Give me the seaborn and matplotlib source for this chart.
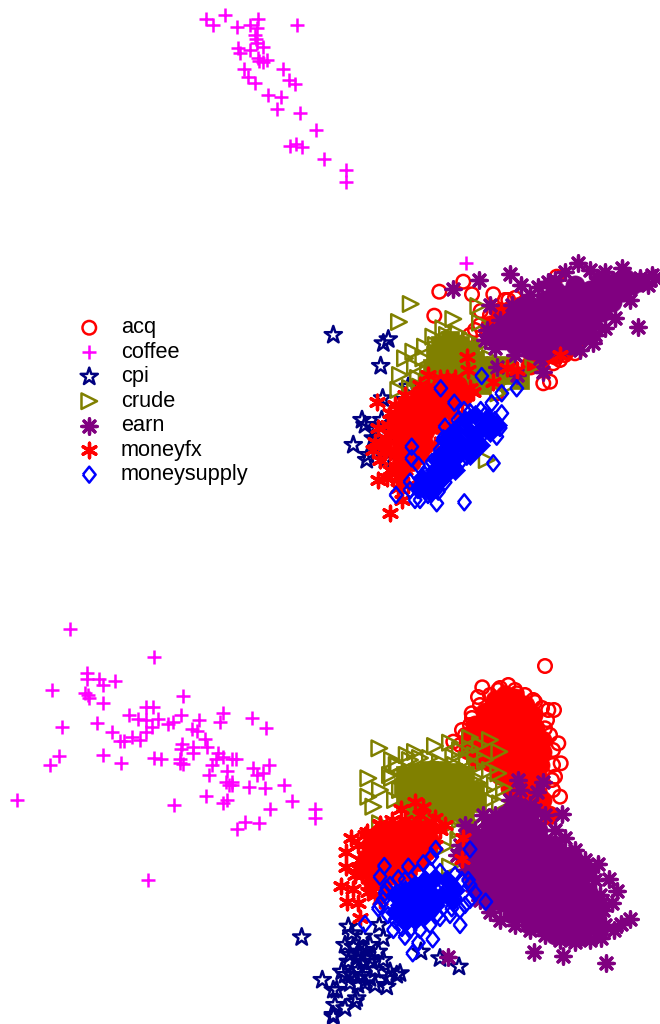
import matplotlib
matplotlib.use('Agg')
import matplotlib.pyplot as plt
import seaborn as sns

sns.set_theme(style='white')
plt.rcParams['font.family'] = ['Liberation Sans', 'DejaVu Sans']

names = ['acq', 'coffee', 'cpi', 'crude', 'earn', 'moneyfx', 'moneysupply']
colors = ['#ff0000', '#ff00ff', '#000080', '#808000', '#800080', '#ff0000', '#0000ff']
diamond = [(-0.8, 0), (0, 1), (0.8, 0), (0, -1), (-0.8, 0)]
markers = ['o', '+', '*', '>', (8, 2, 0), (6, 2, 0), diamond]
sizes = [95, 100, 170, 125, 120, 110, 132]

# scores, top panel
top = {}
top_core = {}
top['acq'] = [(439.3,291.7),(463.3,281.7),(472,294.3),(493.3,294.3),(434.3,315.7),(556.7,276.7),(508.3,300),(526.7,301.7),(480.7,311),(475,330),(543.3,383.3),(550,381.7),(575,353.3),(553.3,363.3),(496.7,393.3),(505,300),(515,298),(525,302),(480,325),(470,335),(500,310),(490,315),(565,355),(545,358),(560,360),(520,362),(510,365),(535,362),(575,345)]
top_core['acq'] = [(500,315),(510,310),(520,306),(490,325),(555,355),(565,350),(540,360),(530,365)]
top['coffee'] = [(205.7,19),(213.3,25.3),(224.7,14.7),(237,26.7),(250.3,24.7),(258,19),(257,28),(255,35),(255.7,39.3),(262.7,46.7),(257,42.7),(249.7,50),(238.3,47.7),(240.3,52.7),(257.7,58.3),(267.3,59.7),(259.3,61),(263.3,61.7),(243.7,68.7),(283.3,69),(247.7,77.3),(255,83.3),(288.7,80.3),(295.3,83.7),(297,25),(268.3,95.3),(281,96.7),(276.7,109.3),(300.3,113.3),(316,130.3),(290.3,146),(296,144.3),(301.7,147.3),(323.7,158.7),(346,169.7),(346.3,182.3),(466,263.3)]
top['cpi'] = [(333.3,335),(388.3,339.3),(383.3,343.3),(380.7,366),(408.3,386.7),(382.7,398.3),(365,425),(381.7,420),(388.3,425),(353.3,445),(373.3,438.3),(366.7,460),(385,460),(390,431.7),(375,430),(362,420),(368,455),(378,440),(382,450),(395,430),(392,445),(405,400)]
top['crude'] = [(410.7,304),(399,322),(478.3,306),(453.3,319),(480,322.7),(458.3,333.3),(443.3,328.3),(433.3,336.7),(425,346.7),(413.3,351.7),(405,358.3),(423.3,358.3),(415,366.7),(400,375),(398.3,390),(420,386.7),(426.7,381.7),(533.3,366.7),(498.3,393.3),(486.7,460),(410,388),(415,392),(440,358),(436,345),(447,335),(470,340),(480,345),(490,358),(495,365),(505,380),(510,385),(428,372),(418,378),(440,392),(432,395),(425,390)]
top_core['crude'] = [(440,345),(450,340),(460,345),(470,350),(435,355),(445,355),(455,355),(465,360),(475,360),(485,365),(432,368),(442,368),(452,368),(462,372),(472,372),(482,375),(490,370),(430,380),(440,380),(450,380),(495,378),(500,372),(505,365),(510,375),(520,380),(470,385),(480,385),(460,385),(440,392)]
top['earn'] = [(577.7,262.7),(510,274),(479.3,280),(452.7,289),(520.7,285),(538.3,286.7),(548.3,281.7),(637.7,327.3),(651.7,275),(593.3,343.3),(490,305),(543.3,371.7),(516.7,375),(496.7,366.7),(500,320),(512,305),(530,295),(555,280),(565,272),(590,270),(605,272),(622,268),(640,278),(648,285),(655,278),(630,300),(615,318),(605,328),(595,335),(580,350),(560,352),(540,358),(515,355),(495,348),(485,340),(487,330)]
top_core['earn'] = [(495,335),(505,325),(515,315),(525,305),(505,340),(515,330),(525,320),(535,310),(545,300),(555,290),(515,345),(525,335),(535,325),(545,315),(555,305),(565,295),(575,285),(530,350),(540,340),(550,330),(560,320),(570,310),(580,300),(590,290),(600,280),(545,350),(555,342),(565,332),(575,322),(585,312),(595,302),(605,292),(615,282),(625,278),(570,345),(582,335),(592,322),(602,312),(612,302),(622,292),(632,285),(640,282)]
top['moneyfx'] = [(377.3,401.7),(390,413.3),(378.3,428.3),(385,438.3),(373.3,450),(390,451.7),(378.3,480),(386.7,478.3),(396.7,476.7),(401.7,500),(390,513.3),(428.3,375),(466.7,356.7),(446.7,378.3),(468.3,370),(493.3,381.7),(473.3,391.7),(506.7,368.3),(516.7,370),(560,355),(392,420),(390,435),(395,450),(385,445),(375,442),(380,460),(390,470),(400,478),(408,485),(398,488),(405,470),(385,452),(388,425),(395,405),(405,395),(420,385),(440,378),(455,378),(470,388),(462,402),(455,415),(450,425),(445,435),(435,445)]
top_core['moneyfx'] = [(405,405),(418,398),(430,392),(445,388),(458,385),(465,395),(400,418),(412,412),(425,405),(438,400),(452,398),(400,430),(412,425),(425,418),(438,412),(450,410),(400,442),(412,438),(425,432),(438,425),(400,455),(412,450),(425,445),(400,465),(412,462),(420,455)]
top['moneysupply'] = [(481.7,376),(440.7,388.3),(454.3,402.7),(464,410),(516.7,388.3),(501.7,393.3),(491.7,403.3),(480.7,410),(501.7,413.3),(496.7,436.7),(478.3,441.7),(493.3,463.3),(466.7,456.7),(411.7,446.7),(411.7,458.3),(418.3,465),(410,481.7),(445,482.3),(438.3,491.7),(396,495),(415,500),(436.7,503.3),(464.3,502.3),(423.3,488.3),(455,466.7),(445,426.7),(443.3,438.3),(425,475),(432,462),(440,450),(448,442),(458,420),(470,412),(485,415),(495,420),(500,428),(490,430),(480,438),(472,448),(462,460),(452,465),(444,478),(436,490),(428,495),(418,490),(410,490),(420,500)]
top_core['moneysupply'] = [(445,440),(455,430),(465,420),(475,415),(488,418),(450,450),(460,442),(470,432),(482,428),(445,462),(455,458),(465,448),(475,440),(435,470),(447,472),(428,480),(438,482),(420,488),(430,492),(422,478),(445,475),(455,470),(470,455),(480,445),(490,432),(440,455),(437,460),(497,425)]

# scores, bottom panel
bot = {}
bot_core = {}
bot['acq'] = [(545,666),(482.3,687.3),(508.3,685),(498.3,690),(516.7,693.3),(533.3,700),(548.3,710),(554,710),(471.7,713.3),(558.3,743.3),(560.7,763.3),(453.3,741.7),(560,796.7),(555,776.7),(470,725),(545,728.3),(490,695),(500,688),(515,690),(525,695),(535,702),(542,708),(547,720),(550,735),(553,750),(553,765),(552,780),(553,790),(480,705),(472,718),(465,735),(460,745),(462,730),(478,697)]
bot_core['acq'] = [(495,700),(505,695),(515,698),(525,705),(485,712),(497,710),(509,708),(521,712),(533,715),(475,725),(487,722),(499,722),(511,722),(523,724),(535,728),(470,738),(482,735),(494,735),(506,735),(518,737),(530,738),(542,740),(468,750),(480,748),(492,748),(504,748),(516,750),(528,750),(542,752),(478,760),(490,762),(502,762),(514,762),(526,762),(540,765),(500,775),(512,775),(524,775),(538,778),(510,788),(522,788),(535,790),(515,800),(530,800),(542,800),(549,815)]
bot['coffee'] = [(70.3,629),(154.3,657),(87.3,672.7),(87.3,679),(99.3,679),(103.3,685),(114.7,680.7),(52,689.7),(85,692.7),(87.7,695),(89.3,697.7),(103,703.3),(183.3,696.3),(145.7,707.3),(152.7,707.3),(128.7,715),(181,715),(138.3,719.3),(145.7,720),(157.7,719),(173.3,721.7),(167.7,724.3),(199.3,720.3),(222.7,713.3),(220.3,722.3),(251.7,718.3),(265.7,728),(97,723.3),(61.7,726.7),(112,732.3),(146,731.7),(152,727.3),(192.3,729),(196.7,730.7),(120.3,740.7),(124.3,740.7),(132.3,736.7),(140,740),(205,739.3),(182,744.3),(180.7,749.3),(192.7,747),(193,752.7),(207,746.7),(218.3,753.3),(216,759),(232.3,759.3),(236.3,759.3),(223,757.3),(103.3,754.7),(59.3,756),(50.3,765),(120.7,763),(153.7,758.3),(161.3,759),(180.3,759),(180.3,762.7),(183,764.3),(212,765),(226.7,770.7),(252.7,767.7),(268.7,765),(257.3,775),(263.3,773.3),(208.7,775.3),(226,781.7),(232.3,781.7),(228.7,785),(231.7,785),(249.3,787.3),(264.7,788),(284.3,784.7),(292.3,801.3),(17.3,799.7),(174,805),(206,795.7),(226.7,800.3),(223.3,802.7),(270,809.3),(314.7,808.7),(315,818),(245,821.7),(258.7,823),(237,829),(147.7,879.7)]
bot['cpi'] = [(301.7,937.3),(459,966.7),(440,958.3),(421,951.7),(322.3,980),(400,973.3),(333.3,1015),(356.7,998.3),(348.3,926.7),(379.3,925),(351.7,933.3),(363.3,936.7),(383.3,938.3),(353.3,946.7),(370,945),(358.3,951.7),(378.3,951.7),(348.3,961.7),(356.7,958.3),(363.3,961.7),(370,958.3),(383.3,960),(341.7,971.7),(358.3,970),(370,978.3),(390,971.7),(396.7,975),(388.3,978.3),(350,983.3),(365,983.3),(386.7,986.7),(336.7,990),(333.3,990),(335,1005),(345,1008.3),(355,1001.7),(333.3,1016.7),(365,950),(360,955),(350,955),(372,962),(345,945),(375,970),(362,975),(352,975),(375,985),(358,985),(345,975)]
bot['crude'] = [(379.3,748.3),(435,746),(450,742.7),(470,737.7),(490,740),(499.3,751.7),(368.3,778.3),(380,790),(368.3,796.7),(373.3,806.7),(498.3,773.3),(504,788.3),(406.7,755),(396.7,765),(390,775),(476.7,766.7),(380,823.3),(500,803.3),(490,820),(445,846.7),(450,866.7),(458.3,840),(478.3,783.3),(453.3,756.7),(466.7,760),(398,765),(392,778),(400,790),(395,800),(392,760),(410,760),(420,758),(430,758),(415,752),(440,762),(455,765),(465,770),(475,778),(485,790),(490,800),(480,815),(470,822),(450,825),(460,830),(495,785),(480,745),(470,748),(460,750),(485,760),(475,755),(490,770)]
bot_core['crude'] = [(405,775),(417,772),(429,770),(441,770),(453,772),(465,775),(403,787),(415,785),(427,785),(439,785),(451,785),(463,787),(475,790),(405,800),(417,798),(429,798),(441,798),(453,798),(465,800),(477,803),(415,812),(429,812),(441,812),(453,812),(465,815)]
bot['earn'] = [(561.7,814.3),(517.7,780),(543.3,781.7),(536.7,791.7),(597.7,864),(609,879.3),(616.7,890.7),(612.3,902.7),(630,919.3),(621,924),(614.3,930),(601,938.3),(534.3,952.3),(563.3,955.7),(605.7,963.3),(447.7,957.3),(483.3,815),(465,825),(520,790),(510,800),(530,805),(495,815),(475,830),(465,835),(460,845),(457,855),(575,850),(585,860),(590,870),(595,880),(600,895),(603,910),(605,925),(590,940),(575,942),(560,940),(545,935),(530,930),(515,925),(500,920),(490,912),(480,900),(472,885),(465,870),(555,830),(565,838),(545,815),(535,810),(600,930)]
bot_core['earn'] = [(517,806),(505,815),(517,818),(529,818),(490,825),(502,828),(514,830),(526,830),(538,830),(470,838),(482,838),(494,840),(506,842),(518,842),(530,842),(542,842),(554,845),(465,850),(477,850),(489,852),(501,854),(513,854),(525,854),(537,854),(549,855),(561,855),(468,862),(480,864),(492,866),(504,866),(516,866),(528,866),(540,866),(552,866),(564,866),(575,868),(472,875),(484,878),(496,878),(508,878),(520,878),(532,878),(544,878),(556,878),(568,878),(580,880),(480,890),(492,890),(504,890),(516,890),(528,890),(540,890),(552,890),(564,890),(576,890),(588,892),(490,902),(502,902),(514,902),(526,902),(538,902),(550,902),(562,902),(574,902),(586,902),(596,905),(512,914),(524,914),(536,914),(548,914),(560,914),(572,914),(584,914),(596,916),(530,925),(542,925),(554,925),(566,925),(578,925),(590,926),(555,935),(567,936),(582,936),(572,855),(585,870)]
bot['moneyfx'] = [(351,838.3),(346,851.7),(346,866.7),(356.7,868.3),(340.7,886),(353.3,889.3),(347.3,902.3),(358.3,903.3),(360,918.3),(366.7,831.7),(415,801.7),(423.3,806.7),(401,809),(380,824.3),(445,825),(435,818.3),(463.3,838.3),(461.7,859),(365,835),(358,845),(360,860),(362,875),(370,885),(375,895),(380,900),(395,890),(405,820),(420,815),(432,822),(440,830),(435,845),(425,860),(380,825),(392,820),(355,875),(368,892),(384,892)]
bot_core['moneyfx'] = [(380,832),(392,830),(404,826),(416,828),(428,828),(370,845),(382,845),(394,842),(406,840),(418,840),(430,840),(366,858),(378,858),(390,855),(402,852),(414,852),(426,852),(370,870),(382,870),(394,866),(406,864),(418,862),(372,882),(384,880),(396,876),(408,872)]
bot['moneysupply'] = [(384.3,866),(380,876.7),(470,849.3),(435.7,849),(431.7,856.7),(408.3,866.7),(398.3,878.3),(386.7,888.3),(378.3,908.3),(365,924),(485.7,901.7),(460,925),(432.7,939.3),(418.3,942.7),(412.7,953.3),(405,936.7),(393.3,930),(468.3,880),(461.7,880),(423.3,863.3),(436.7,915),(451.7,908.3),(465,905),(385,893),(383,900),(380,905),(390,885),(405,880),(418,872),(440,872),(455,875),(470,885),(475,893),(470,900),(460,910),(450,915),(440,918),(430,925),(420,930),(410,930),(402,928),(395,920),(388,915),(445,885),(455,898),(430,870)]
bot_core['moneysupply'] = [(395,895),(405,890),(415,885),(425,880),(435,878),(447,880),(455,890),(400,905),(410,900),(420,895),(430,892),(442,895),(452,900),(395,912),(405,912),(415,910),(425,905),(435,905),(405,922),(415,920),(425,915)]

fig = plt.figure(figsize=(6.6, 10.24), dpi=100)
ax1 = fig.add_axes([0, 1 - 535 / 1024, 1, 535 / 1024])
ax2 = fig.add_axes([0, 0, 1, 489 / 1024])

# solid parts of the clouds get filled marks, the rest stay open
core_markers = {'acq': 'o', 'crude': 's', 'earn': 'o', 'moneyfx': 'o', 'moneysupply': 'D'}
core_sizes = {'acq': 190, 'crude': 170, 'earn': 190, 'moneyfx': 170, 'moneysupply': 105}


def draw_panel(ax, pts, core, ylim, with_label):
    for name, col, mk, sz in zip(names, colors, markers, sizes):
        if name in core:
            xs = [p[0] for p in core[name]]
            ys = [p[1] for p in core[name]]
            sns.scatterplot(x=xs, y=ys, marker=core_markers[name], s=core_sizes[name], color=col,
                            edgecolor=col, linewidth=0.5, ax=ax, clip_on=False)
        xs = [p[0] for p in pts[name]]
        ys = [p[1] for p in pts[name]]
        kw = {'label': name} if with_label else {}
        if mk == '+':
            sns.scatterplot(x=xs, y=ys, marker=mk, s=sz, color=col, linewidth=1.8,
                            ax=ax, clip_on=False, **kw)
        elif isinstance(mk, tuple):
            sns.scatterplot(x=xs, y=ys, marker=mk, s=sz, color=col, linewidth=2.4,
                            ax=ax, clip_on=False, **kw)
        else:
            sns.scatterplot(x=xs, y=ys, marker=mk, s=sz, facecolor='none', edgecolor=col, linewidth=1.8,
                            ax=ax, clip_on=False, **kw)
    ax.set_xlim(0, 660)
    ax.set_ylim(*ylim)
    ax.set_axis_off()


draw_panel(ax1, top, top_core, (535, 0), True)
draw_panel(ax2, bot, bot_core, (1024, 535), False)

ax1.legend(loc='upper left', bbox_to_anchor=(50 / 660, 1 - 300 / 535), frameon=False, fontsize=15.7,
           labelspacing=0.16, handletextpad=0.45, borderpad=0.3, scatterpoints=1, labelcolor='black')

fig.savefig('out.png', dpi=100)
